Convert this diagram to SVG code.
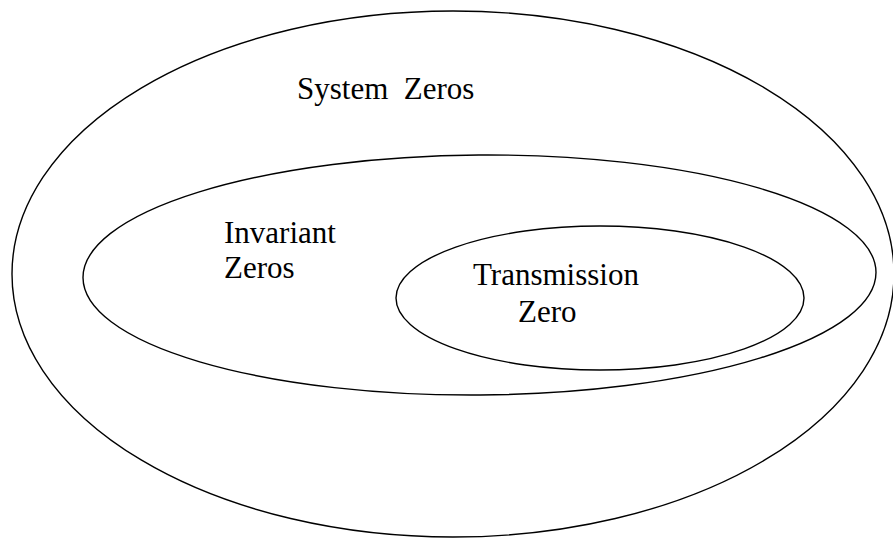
<svg xmlns="http://www.w3.org/2000/svg" width="893" height="538" viewBox="0 0 893 538">
  <style>
    .ring { fill: none; stroke: #000; stroke-width: 1.4; }
    .label { font-family: "Liberation Serif", "Times New Roman", serif; font-size: 31px; fill: #000; }
  </style>
  <rect width="893" height="538" fill="#fff"/>
  <g id="system-zeros">
    <ellipse class="ring" cx="453" cy="274" rx="441" ry="263"/>
    <text class="label" x="297" y="99" xml:space="preserve">System  Zeros</text>
  </g>
  <g id="invariant-zeros">
    <ellipse class="ring" cx="479.5" cy="275" rx="396.5" ry="120" transform="rotate(-0.4 479.5 275)"/>
    <text class="label" x="224" y="243">Invariant</text>
    <text class="label" x="224" y="278">Zeros</text>
  </g>
  <g id="transmission-zero">
    <ellipse class="ring" cx="600" cy="298" rx="204" ry="72"/>
    <text class="label" x="473" y="285">Transmission</text>
    <text class="label" x="518" y="322">Zero</text>
  </g>
  <g id="connectors"/>
</svg>
